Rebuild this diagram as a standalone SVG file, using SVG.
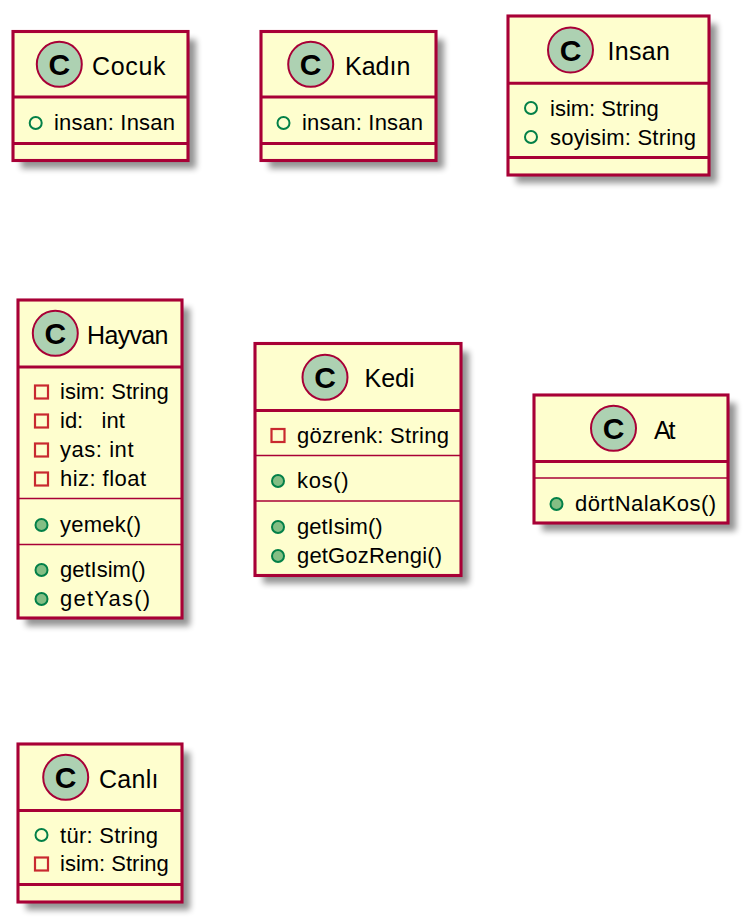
<svg xmlns="http://www.w3.org/2000/svg" width="748" height="922" viewBox="0 0 748 922">
<defs>
<filter id="sh" x="-15%" y="-15%" width="130%" height="130%"><feGaussianBlur stdDeviation="3.4"/></filter>
<g id="c"><circle r="22.500" fill="#ADD1B2" stroke="#A80036" stroke-width="2"/><text y="10.500" text-anchor="middle" font-size="30" font-weight="bold" fill="#000">C</text></g>
<g id="pub"><circle r="6" fill="none" stroke="#038048" stroke-width="2"/></g>
<g id="pubm"><circle r="6" fill="#84BE84" stroke="#038048" stroke-width="2"/></g>
<g id="pri"><rect x="-6.500" y="-6.500" width="13" height="13" fill="none" stroke="#C82930" stroke-width="2.200"/></g>
</defs>
<style>
text{font-family:"Liberation Sans",Arial,sans-serif;fill:#000}
.b{fill:#FEFECE;stroke:#A80036;stroke-width:3.100}
.s{fill:#000;opacity:.42;filter:url(#sh)}
.d{stroke:#A80036;stroke-width:3.100}
.t{stroke:#A80036;stroke-width:1.600}
.h{font-size:25px}
.m{font-size:22px}
</style>
<g id="connectors"/>
<g id="node-cocuk">
<rect class="s" x="21" y="39.500" width="175" height="129"/><rect class="b" x="13" y="31.500" width="175" height="129"/>
<line class="d" x1="13" y1="97" x2="188" y2="97"/><line class="d" x1="13" y1="143.500" x2="188" y2="143.500"/>
<use href="#c" x="59.300" y="64.300"/><text class="h" x="92" y="75" textLength="73.500">Cocuk</text>
<use href="#pub" x="35.700" y="123"/><text class="m" x="54" y="130" textLength="121">insan: Insan</text>
</g>
<g id="node-kadin">
<rect class="s" x="269" y="39.500" width="175" height="129"/><rect class="b" x="261" y="31.500" width="175" height="129"/>
<line class="d" x1="261" y1="97" x2="436" y2="97"/><line class="d" x1="261" y1="143.500" x2="436" y2="143.500"/>
<use href="#c" x="310.700" y="64.300"/><text class="h" x="345" y="75">Kadın</text>
<use href="#pub" x="283.500" y="123"/><text class="m" x="302" y="130" textLength="121">insan: Insan</text>
</g>
<g id="node-insan">
<rect class="s" x="516" y="24" width="201" height="159"/><rect class="b" x="508" y="16" width="201" height="159"/>
<line class="d" x1="508" y1="83.300" x2="709" y2="83.300"/><line class="d" x1="508" y1="157.500" x2="709" y2="157.500"/>
<use href="#c" x="570.500" y="50"/><text class="h" x="607.500" y="60" textLength="62.500">Insan</text>
<use href="#pub" x="531" y="108"/><text class="m" x="550" y="115.500">isim: String</text>
<use href="#pub" x="531" y="137"/><text class="m" x="550" y="144.500" textLength="146">soyisim: String</text>
</g>
<g id="node-hayvan">
<rect class="s" x="26" y="308" width="164" height="318"/><rect class="b" x="18" y="300" width="164" height="318"/>
<line class="d" x1="18" y1="367" x2="182" y2="367"/><line class="t" x1="18" y1="498.500" x2="182" y2="498.500"/><line class="t" x1="18" y1="544.500" x2="182" y2="544.500"/>
<use href="#c" x="55.300" y="333.300"/><text class="h" x="87" y="344" textLength="81.500">Hayvan</text>
<use href="#pri" x="41.500" y="392"/><text class="m" x="60" y="399">isim: String</text>
<use href="#pri" x="41.500" y="421"/><text class="m" x="60" y="428" xml:space="preserve">id:   int</text>
<use href="#pri" x="41.500" y="450"/><text class="m" x="60" y="457" textLength="73.500">yas: int</text>
<use href="#pri" x="41.500" y="479"/><text class="m" x="60" y="486" textLength="86">hiz: float</text>
<use href="#pubm" x="41.500" y="525"/><text class="m" x="60" y="532" textLength="81">yemek()</text>
<use href="#pubm" x="41.500" y="570"/><text class="m" x="60" y="577">getIsim()</text>
<use href="#pubm" x="41.500" y="599"/><text class="m" x="60" y="606" textLength="90">getYas()</text>
</g>
<g id="node-kedi">
<rect class="s" x="263" y="351.500" width="206" height="232"/><rect class="b" x="255" y="343.500" width="206" height="232"/>
<line class="d" x1="255" y1="410.500" x2="461" y2="410.500"/><line class="t" x1="255" y1="455.500" x2="461" y2="455.500"/><line class="t" x1="255" y1="501" x2="461" y2="501"/>
<use href="#c" x="325" y="377.300"/><text class="h" x="364.500" y="387">Kedi</text>
<use href="#pri" x="278" y="435.500"/><text class="m" x="297" y="443" textLength="152">gözrenk: String</text>
<use href="#pubm" x="278" y="481"/><text class="m" x="297" y="488" textLength="51.500">kos()</text>
<use href="#pubm" x="278" y="527"/><text class="m" x="297" y="534">getIsim()</text>
<use href="#pubm" x="278" y="556"/><text class="m" x="297" y="563" textLength="145">getGozRengi()</text>
</g>
<g id="node-at">
<rect class="s" x="542" y="403" width="194" height="128"/><rect class="b" x="534" y="395" width="194" height="128"/>
<line class="d" x1="534" y1="461.500" x2="728" y2="461.500"/><line class="t" x1="534" y1="478" x2="728" y2="478"/>
<use href="#c" x="613.500" y="428.300"/><text class="h" x="654" y="439" textLength="21.500">At</text>
<use href="#pubm" x="556.500" y="504"/><text class="m" x="575" y="511" textLength="141">dörtNalaKos()</text>
</g>
<g id="node-canli">
<rect class="s" x="26" y="752" width="164" height="158"/><rect class="b" x="18" y="744" width="164" height="158"/>
<line class="d" x1="18" y1="810.500" x2="182" y2="810.500"/><line class="d" x1="18" y1="884.500" x2="182" y2="884.500"/>
<use href="#c" x="65.700" y="777.300"/><text class="h" x="99" y="788" textLength="59.500">Canlı</text>
<use href="#pub" x="41.500" y="835"/><text class="m" x="60" y="842.500" textLength="98">tür: String</text>
<use href="#pri" x="41.500" y="864"/><text class="m" x="60" y="871">isim: String</text>
</g>
</svg>
